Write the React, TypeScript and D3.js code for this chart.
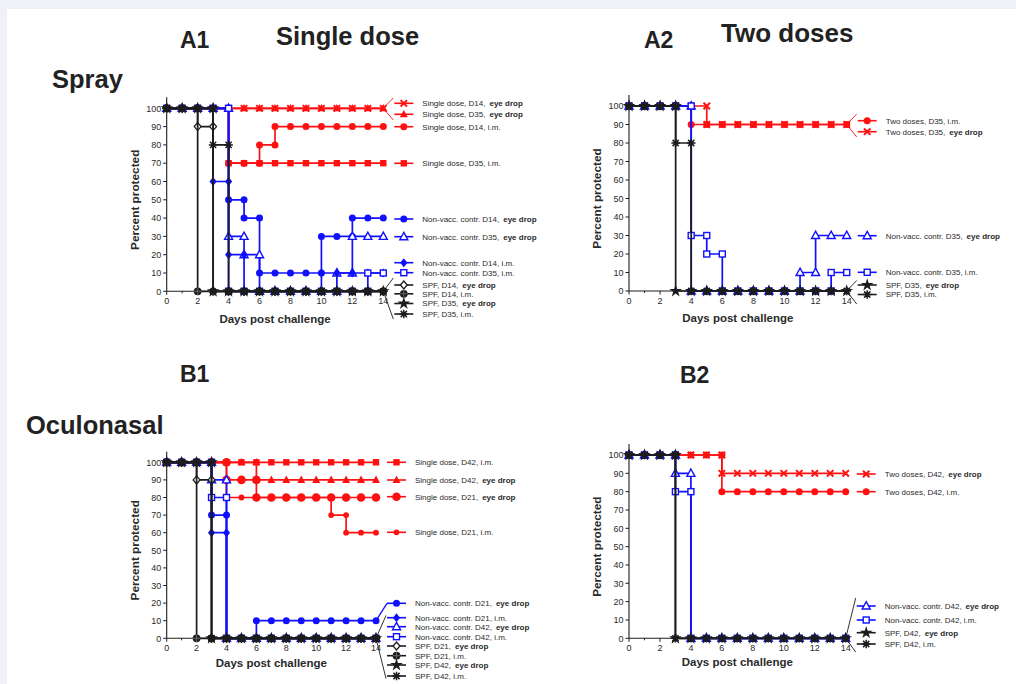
import React from 'react';
import * as d3 from 'd3';

// ---- data ----
const days = [0, 1, 2, 3, 4, 5, 6, 7, 8, 9, 10, 11, 12, 13, 14];
const yTicks = [0, 10, 20, 30, 40, 50, 60, 70, 80, 90, 100];
const xTickLabels = [0, 2, 4, 6, 8, 10, 12, 14];

// A1: spray, single dose
const a1Labels = [
  ['Single dose, D14,', 'eye drop'],
  ['Single dose, D35,', 'eye drop'],
  ['Single dose, D14, i.m.', ''],
  ['Single dose, D35, i.m.', ''],
  ['Non-vacc. contr. D14,', 'eye drop'],
  ['Non-vacc. contr. D35,', 'eye drop'],
  ['Non-vacc. contr. D14, i.m.', ''],
  ['Non-vacc. contr. D35, i.m.', ''],
  ['SPF, D14,', 'eye drop'],
  ['SPF, D14, i.m.', ''],
  ['SPF, D35,', 'eye drop'],
  ['SPF, D35, i.m.', ''],
];
const a1Values = [
  [100, 100, 100, 100, 100, 100, 100, 100, 100, 100, 100, 100, 100, 100, 100],
  [100, 100, 100, 100, 100, 100, 100, 100, 100, 100, 100, 100, 100, 100, 100],
  [100, 100, 100, 100, 70, 70, 80, 90, 90, 90, 90, 90, 90, 90, 90],
  [100, 100, 100, 100, 70, 70, 70, 70, 70, 70, 70, 70, 70, 70, 70],
  [100, 100, 100, 100, 50, 40, 10, 10, 10, 10, 30, 30, 40, 40, 40],
  [100, 100, 100, 100, 30, 20, 0, 0, 0, 0, 0, 10, 30, 30, 30],
  [100, 100, 100, 60, 20, 0, 0, 0, 0, 0, 10, 10, 10, 10, 10],
  [100, 100, 100, 100, 0, 0, 0, 0, 0, 0, 0, 0, 0, 10, 10],
  [100, 100, 90, 0, 0, 0, 0, 0, 0, 0, 0, 0, 0, 0, 0],
  [100, 100, 0, 0, 0, 0, 0, 0, 0, 0, 0, 0, 0, 0, 0],
  [100, 100, 100, 0, 0, 0, 0, 0, 0, 0, 0, 0, 0, 0, 0],
  [100, 100, 100, 80, 0, 0, 0, 0, 0, 0, 0, 0, 0, 0, 0],
];

// A2: spray, two doses
const a2Labels = [
  ['Two doses, D35, i.m.', ''],
  ['Two doses, D35,', 'eye drop'],
  ['Non-vacc. contr. D35,', 'eye drop'],
  ['Non-vacc. contr. D35, i.m.', ''],
  ['SPF, D35,', 'eye drop'],
  ['SPF, D35, i.m.', ''],
];
const a2Values = [
  [100, 100, 100, 100, 90, 90, 90, 90, 90, 90, 90, 90, 90, 90, 90],
  [100, 100, 100, 100, 100, 90, 90, 90, 90, 90, 90, 90, 90, 90, 90],
  [100, 100, 100, 100, 0, 0, 0, 0, 0, 0, 0, 10, 30, 30, 30],
  [100, 100, 100, 100, 30, 20, 0, 0, 0, 0, 0, 0, 0, 10, 10],
  [100, 100, 100, 0, 0, 0, 0, 0, 0, 0, 0, 0, 0, 0, 0],
  [100, 100, 100, 80, 0, 0, 0, 0, 0, 0, 0, 0, 0, 0, 0],
];

// B1: oculonasal, single dose
const b1Labels = [
  ['Single dose, D42, i.m.', ''],
  ['Single dose, D42,', 'eye drop'],
  ['Single dose, D21,', 'eye drop'],
  ['Single dose, D21, i.m.', ''],
  ['Non-vacc. contr. D21,', 'eye drop'],
  ['Non-vacc. contr. D21, i.m.', ''],
  ['Non-vacc. contr. D42,', 'eye drop'],
  ['Non-vacc. contr. D42, i.m.', ''],
  ['SPF, D21,', 'eye drop'],
  ['SPF, D21, i.m.', ''],
  ['SPF, D42,', 'eye drop'],
  ['SPF, D42, i.m.', ''],
];
const b1Values = [
  [100, 100, 100, 100, 100, 100, 100, 100, 100, 100, 100, 100, 100, 100, 100],
  [100, 100, 100, 100, 100, 100, 90, 90, 90, 90, 90, 90, 90, 90, 90],
  [100, 100, 100, 100, 90, 90, 80, 80, 80, 80, 80, 80, 80, 80, 80],
  [100, 100, 100, 100, 80, 80, 80, 80, 80, 80, 80, 70, 60, 60, 60],
  [100, 100, 100, 70, 0, 0, 10, 10, 10, 10, 10, 10, 10, 10, 10],
  [100, 100, 100, 60, 0, 0, 0, 0, 0, 0, 0, 0, 0, 0, 0],
  [100, 100, 100, 90, 0, 0, 0, 0, 0, 0, 0, 0, 0, 0, 0],
  [100, 100, 100, 80, 0, 0, 0, 0, 0, 0, 0, 0, 0, 0, 0],
  [100, 100, 90, 0, 0, 0, 0, 0, 0, 0, 0, 0, 0, 0, 0],
  [100, 100, 0, 0, 0, 0, 0, 0, 0, 0, 0, 0, 0, 0, 0],
  [100, 100, 100, 0, 0, 0, 0, 0, 0, 0, 0, 0, 0, 0, 0],
  [100, 100, 100, 0, 0, 0, 0, 0, 0, 0, 0, 0, 0, 0, 0],
];

// B2: oculonasal, two doses
const b2Labels = [
  ['Two doses, D42,', 'eye drop'],
  ['Two doses, D42, i.m.', ''],
  ['Non-vacc. contr. D42,', 'eye drop'],
  ['Non-vacc. contr. D42, i.m.', ''],
  ['SPF, D42,', 'eye drop'],
  ['SPF, D42, i.m.', ''],
];
const b2Values = [
  [100, 100, 100, 100, 100, 100, 90, 90, 90, 90, 90, 90, 90, 90, 90],
  [100, 100, 100, 100, 100, 100, 80, 80, 80, 80, 80, 80, 80, 80, 80],
  [100, 100, 100, 90, 0, 0, 0, 0, 0, 0, 0, 0, 0, 0, 0],
  [100, 100, 100, 80, 0, 0, 0, 0, 0, 0, 0, 0, 0, 0, 0],
  [100, 100, 100, 0, 0, 0, 0, 0, 0, 0, 0, 0, 0, 0, 0],
  [100, 100, 100, 0, 0, 0, 0, 0, 0, 0, 0, 0, 0, 0, 0],
];

// ---- styles ----
const RED = '#ff1010';
const BLUE = '#1010ff';
const BLACK = '#1c1c1c';
const TXT = '#2a2a2a';
const font = "'Liberation Sans', Arial, Helvetica, sans-serif";

type Style = { color: string; marker: string; r?: number };

const a1Styles: Style[] = [
  { color: RED, marker: 'x' },
  { color: RED, marker: 'triangle' },
  { color: RED, marker: 'circle' },
  { color: RED, marker: 'square' },
  { color: BLUE, marker: 'circle' },
  { color: BLUE, marker: 'triangleOpen' },
  { color: BLUE, marker: 'diamond' },
  { color: BLUE, marker: 'squareOpen' },
  { color: BLACK, marker: 'diamondOpen' },
  { color: BLACK, marker: 'circleCross' },
  { color: BLACK, marker: 'star' },
  { color: BLACK, marker: 'asterisk' },
];
const a2Styles: Style[] = [
  { color: RED, marker: 'circle' },
  { color: RED, marker: 'x' },
  { color: BLUE, marker: 'triangleOpen' },
  { color: BLUE, marker: 'squareOpen' },
  { color: BLACK, marker: 'star' },
  { color: BLACK, marker: 'asterisk' },
];
const b1Styles: Style[] = [
  { color: RED, marker: 'square' },
  { color: RED, marker: 'triangle' },
  { color: RED, marker: 'circle', r: 4.3 },
  { color: RED, marker: 'circle', r: 2.9 },
  { color: BLUE, marker: 'circle' },
  { color: BLUE, marker: 'diamond' },
  { color: BLUE, marker: 'triangleOpen' },
  { color: BLUE, marker: 'squareOpen' },
  { color: BLACK, marker: 'diamondOpen' },
  { color: BLACK, marker: 'circleCross' },
  { color: BLACK, marker: 'star' },
  { color: BLACK, marker: 'asterisk' },
];
const b2Styles: Style[] = [
  { color: RED, marker: 'x' },
  { color: RED, marker: 'circle' },
  { color: BLUE, marker: 'triangleOpen' },
  { color: BLUE, marker: 'squareOpen' },
  { color: BLACK, marker: 'star' },
  { color: BLACK, marker: 'asterisk' },
];

type Fan = { series: number; top: number; bottom: number; color: string };
type Layout = {
  x0: number; x14: number; y0: number; y100: number;
  titleY: number; rows: number[]; fans: Fan[]; links: number[];
};

const a1Layout: Layout = {
  x0: 166.7, x14: 383.3, y0: 291.3, y100: 108.3, titleY: 323,
  rows: [103.3, 114.3, 126.7, 163.3, 219, 236.7, 262.7, 272.7, 285, 293.8, 303.5, 314],
  fans: [
    { series: 0, top: 98, bottom: 120, color: RED },
    { series: 8, top: 278, bottom: 319, color: BLACK },
  ],
  links: [],
};
const a2Layout: Layout = {
  x0: 629, x14: 846.7, y0: 291, y100: 106, titleY: 322,
  rows: [120.7, 131.7, 235.7, 272.3, 285, 294.5],
  fans: [
    { series: 0, top: 114, bottom: 137, color: RED },
    { series: 4, top: 280.5, bottom: 304, color: BLACK },
  ],
  links: [],
};
const b1Layout: Layout = {
  x0: 166.7, x14: 376, y0: 638.3, y100: 462.3, titleY: 667,
  rows: [462.3, 480, 496.7, 532.3, 603.3, 617.7, 626.7, 636.7, 646, 655.7, 665, 676],
  fans: [{ series: 8, top: 615.5, bottom: 678.5, color: BLACK }],
  links: [4],
};
const b2Layout: Layout = {
  x0: 629, x14: 845.7, y0: 638.3, y100: 455, titleY: 666,
  rows: [474, 491.7, 606, 620, 632.7, 644],
  fans: [{ series: 4, top: 598, bottom: 652, color: BLACK }],
  links: [],
};

// ---- marker shapes ----
const starPath = d3.symbol().type(d3.symbolStar).size(50)() as string;

function Marker({ kind, x, y, color, r = 3.5 }: { kind: string; x: number; y: number; color: string; r?: number }) {
  const t = `translate(${x},${y})`;
  switch (kind) {
    case 'circle':
      return <circle cx={x} cy={y} r={r} fill={color} />;
    case 'square':
      return <rect x={x - 3.2} y={y - 3.2} width={6.4} height={6.4} fill={color} />;
    case 'squareOpen':
      return <rect x={x - 3} y={y - 3} width={6} height={6} fill="#fff" stroke={color} strokeWidth={1.4} />;
    case 'triangle':
      return <path transform={t} d="M0,-4.3L4,3L-4,3Z" fill={color} />;
    case 'triangleOpen':
      return <path transform={t} d="M0,-4.3L4,3L-4,3Z" fill="#fff" stroke={color} strokeWidth={1.4} />;
    case 'diamond':
      return <path transform={t} d="M0,-4.5L3.6,0L0,4.5L-3.6,0Z" fill={color} />;
    case 'diamondOpen':
      return <path transform={t} d="M0,-4L3.4,0L0,4L-3.4,0Z" fill="#fff" stroke={color} strokeWidth={1.3} />;
    case 'x':
      return (
        <path transform={t} d="M-3.2,-3.2L3.2,3.2M3.2,-3.2L-3.2,3.2" stroke={color} strokeWidth={2} fill="none" />
      );
    case 'star':
      return <path transform={t} d={starPath} fill={color} />;
    case 'asterisk':
      return (
        <g transform={t} stroke={color} strokeWidth={1.5}>
          <path d="M-4.3,0L4.3,0M0,-4.3L0,4.3M-3.1,-3.1L3.1,3.1M3.1,-3.1L-3.1,3.1" />
          <circle r={2} fill={color} stroke="none" />
        </g>
      );
    case 'circleCross':
      return (
        <g transform={t}>
          <circle r={3.9} fill={color} />
          <path d="M-3.9,0L3.9,0M0,-3.9L0,3.9" stroke="#777" strokeWidth={0.8} />
        </g>
      );
    default:
      return null;
  }
}

type PanelProps = { labels: string[][]; values: number[][]; styles: Style[]; layout: Layout };

function Panel({ labels, values, styles, layout }: PanelProps) {
  const x = d3.scaleLinear().domain([0, 14]).range([layout.x0, layout.x14]);
  const y = d3.scaleLinear().domain([0, 100]).range([layout.y0, layout.y100]);
  const line = d3
    .line<number>()
    .x((_, i) => x(days[i]))
    .y((v) => y(v))
    .curve(d3.curveStepAfter);
  const lastDay = days[days.length - 1];
  const legX = x(lastDay);

  return (
    <g>
      {/* axes */}
      <line x1={x(0)} x2={x(0)} y1={y(0)} y2={y(106)} stroke={BLACK} strokeWidth={1.1} />
      <line x1={x(0)} x2={x(14)} y1={y(0)} y2={y(0)} stroke={BLACK} strokeWidth={1.1} />
      {yTicks.map((t) => (
        <g key={'y' + t}>
          <line x1={x(0) - 3.5} x2={x(0)} y1={y(t)} y2={y(t)} stroke={BLACK} strokeWidth={1} />
          <text x={x(0) - 5.5} y={y(t) + 3.2} textAnchor="end" fontSize={9} fill={TXT} fontFamily={font}>
            {t}
          </text>
        </g>
      ))}
      {days.map((d) => (
        <line key={'xt' + d} x1={x(d)} x2={x(d)} y1={y(0)} y2={y(0) + (d % 2 === 0 ? 3.5 : 2)} stroke={BLACK} strokeWidth={1} />
      ))}
      {xTickLabels.map((d) => (
        <text key={'xl' + d} x={x(d)} y={y(0) + 12.5} textAnchor="middle" fontSize={9} fill={TXT} fontFamily={font}>
          {d}
        </text>
      ))}
      <text
        transform={`translate(${x(0) - 28},${(y(0) + y(100)) / 2}) rotate(-90)`}
        textAnchor="middle"
        fontSize={11.8}
        fontWeight="bold"
        fill={TXT}
        fontFamily={font}
      >
        Percent protected
      </text>
      <text x={(x(0) + x(14)) / 2} y={layout.titleY} textAnchor="middle" fontSize={11.5} fontWeight="bold" fill={TXT} fontFamily={font}>
        Days post challenge
      </text>

      {/* series: red, then blue, then black on top */}
      {values.map((vals, si) => {
        const st = styles[si];
        const pts: [number, number][] = [];
        vals.forEach((v, i) => {
          if (i > 0 && vals[i - 1] !== v) pts.push([days[i], vals[i - 1]]);
          pts.push([days[i], v]);
        });
        return (
          <g key={'s' + si}>
            <path d={line(vals) as string} fill="none" stroke={st.color} strokeWidth={1.7} />
            {pts.map(([d, v], k) => (
              <Marker key={k} kind={st.marker} x={x(d)} y={y(v)} color={st.color} r={st.r} />
            ))}
          </g>
        );
      })}

      {/* fan connectors to the labels */}
      {layout.fans.map((f, i) => {
        const vals = values[f.series];
        const ey = y(vals[vals.length - 1]);
        return (
          <path
            key={'f' + i}
            d={`M${legX + 10},${f.top}L${legX},${ey}L${legX + 10},${f.bottom}`}
            fill="none"
            stroke={f.color}
            strokeWidth={0.9}
          />
        );
      })}
      {layout.links.map((si) => {
        const vals = values[si];
        return (
          <line
            key={'l' + si}
            x1={legX}
            y1={y(vals[vals.length - 1])}
            x2={legX + 11}
            y2={layout.rows[si]}
            stroke={styles[si].color}
            strokeWidth={1.3}
          />
        );
      })}

      {/* labels */}
      {labels.map((lab, i) => {
        const ry = layout.rows[i];
        const st = styles[i];
        return (
          <g key={'lg' + i}>
            <line x1={legX + 11} x2={legX + 30} y1={ry} y2={ry} stroke={st.color} strokeWidth={1.6} />
            <Marker kind={st.marker} x={legX + 20.5} y={ry} color={st.color} r={st.r} />
            <text x={legX + 39} y={ry + 2.9} fontSize={8} fill={TXT} fontFamily={font}>
              {lab[0]}
              {lab[1] && (
                <tspan dx={4} fontWeight="bold">
                  {lab[1]}
                </tspan>
              )}
            </text>
          </g>
        );
      })}
    </g>
  );
}

const Heading = ({ x, y, size, children }: { x: number; y: number; size: number; children: string }) => (
  <text x={x} y={y} fontSize={size} fontWeight="bold" fill="#222" fontFamily={font}>
    {children}
  </text>
);

export default function App() {
  return (
    <div style={{ position: 'fixed', left: 0, top: 0 }}>
      <svg width={1016} height={684} style={{ display: 'block' }}>
        <rect width={1016} height={684} fill="#f0f1f7" />
        <rect x={7} y={9} width={1009} height={675} fill="#fff" />

        <Heading x={180} y={47.5} size={23}>A1</Heading>
        <Heading x={276} y={45} size={25.5}>Single dose</Heading>
        <Heading x={52} y={88} size={25.5}>Spray</Heading>
        <Heading x={644} y={48} size={23}>A2</Heading>
        <Heading x={721} y={42} size={26}>Two doses</Heading>
        <Heading x={180} y={381.7} size={23}>B1</Heading>
        <Heading x={680} y={383} size={23}>B2</Heading>
        <Heading x={26} y={434} size={25.5}>Oculonasal</Heading>

        <Panel labels={a1Labels} values={a1Values} styles={a1Styles} layout={a1Layout} />
        <Panel labels={a2Labels} values={a2Values} styles={a2Styles} layout={a2Layout} />
        <Panel labels={b1Labels} values={b1Values} styles={b1Styles} layout={b1Layout} />
        <Panel labels={b2Labels} values={b2Values} styles={b2Styles} layout={b2Layout} />
      </svg>
    </div>
  );
}
